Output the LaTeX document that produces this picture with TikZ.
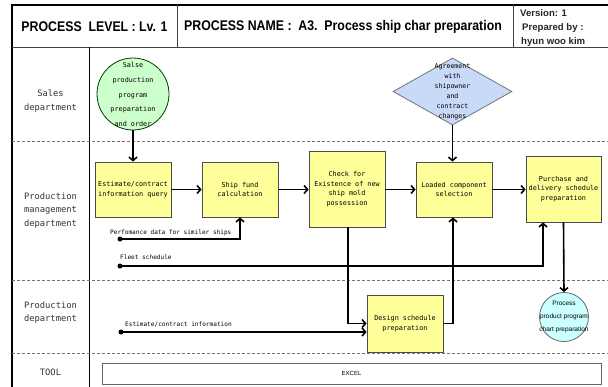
\documentclass[tikz,border=0pt]{standalone}
\usepackage{fontspec}
\setmainfont{Liberation Sans}
\newfontfamily\monof{DejaVu Sans Mono}
\newfontfamily\headf[FakeStretch=0.88]{Liberation Sans}
\usetikzlibrary{arrows.meta,shapes.geometric,calc}
\definecolor{boxyellow}{HTML}{FFFF99}
\definecolor{salesgreen}{HTML}{CCFFCC}
\definecolor{agreeblue}{HTML}{C9DAF8}
\definecolor{proccyan}{HTML}{CCFFFF}
\begin{document}
\begin{tikzpicture}[x=1pt,y=-1pt,
  lanelabel/.style={font=\monof\fontsize{8.8}{13.5}\selectfont, text=black!80, align=center},
  procbox/.style={draw=black!70, fill=boxyellow, line width=0.8pt, minimum width=76pt,
    align=center, inner sep=1pt, font=\monof\fontsize{6.8}{9.6}\selectfont},
  flow/.style={line width=1.6pt, -{Straight Barb[length=3.5pt,width=8pt]}},
  note/.style={font=\monof\fontsize{6.1}{7}\selectfont, anchor=base west, inner sep=0},
  lanesep/.style={draw=black!55, line width=0.7pt, dash pattern=on 3pt off 2pt},
  headtext/.style={font=\headf\bfseries\fontsize{14}{16}\selectfont, inner sep=0},
  vertext/.style={font=\bfseries\fontsize{9.6}{14}\selectfont, inner sep=0, anchor=west, text=black!85}]
\useasboundingbox (0,0) rectangle (608,386);

% frame, header cells and lane separators
\draw[line width=2.2pt] (12,394) -- (12,5) -- (612,5);
\draw[black!75, line width=0.8pt] (12,47) -- (612,47);
\draw[black!75, line width=0.8pt] (177,5) -- (177,47);
\draw[black!75, line width=0.8pt] (513,5) -- (513,47);
\draw[black, line width=0.7pt] (89,47) -- (89,394);
\draw[lanesep] (12,141) -- (608,141);
\draw[lanesep] (12,280) -- (608,280);
\draw[lanesep] (12,353) -- (608,353);

% header
\node[headtext] (lvl) at (94.5,27) {PROCESS\ \ LEVEL : Lv. 1};
\node[headtext] (pname) at (343,27) {PROCESS NAME :\ \ A3.\ \ Process ship char preparation};
\node[vertext] (ver) at (520,13) {Version: 1};
\node[vertext] (prep) at (522,28) {Prepared by :};
\node[vertext] (auth) at (521,42) {hyun woo kim};

% lane labels
\node[lanelabel] (lsales) at (50.5,101) {Sales\\department};
\node[lanelabel] (lpm) at (50.5,210.5) {Production\\management\\department};
\node[lanelabel] (lprod) at (50.5,312.5) {Production\\department};
\node[lanelabel] (ltool) at (50.5,372) {TOOL};

% tool bar
\node[draw=black!60, line width=0.8pt, fill=white, minimum width=499pt, minimum height=21pt,
  inner sep=0, font=\fontsize{6}{7}\selectfont] (excel) at (351.5,373.5) {EXCEL};

% process steps
\node[circle, draw=black!60!green!60!black, fill=salesgreen, line width=0.8pt,
  minimum size=72pt, inner sep=0] (sales) at (133,94) {};
\node[align=center, inner sep=0, font=\monof\fontsize{6.8}{14.7}\selectfont] (salestxt) at (133,94.5)
  {Salse\\production\\program\\preparation\\and order};

\node[diamond, draw=black!55, fill=agreeblue, line width=0.8pt,
  minimum width=119pt, minimum height=67pt, inner sep=0] (agree) at (452.5,91.5) {};
\node[align=center, inner sep=0, font=\monof\fontsize{6.6}{10}\selectfont] (agreetxt) at (452.5,92)
  {Agreement\\with\\shipowner\\and\\contract\\changes};

\node[procbox, minimum height=55pt] (est) at (133,189.5) {Estimate/contract\\information query};
\node[procbox, minimum height=55pt] (fund) at (240,189.5) {Ship fund\\calculation};
\node[procbox, minimum height=76pt] (check) at (347,189) {Check for\\Existence of new\\ship mold\\possession};
\node[procbox, minimum height=55pt] (loaded) at (454,189.5) {Loaded component\\selection};
\node[procbox, minimum width=75pt, minimum height=66pt] (purch) at (563.5,189) {Purchase and\\delivery schedule\\preparation};
\node[procbox, minimum height=57pt] (design) at (405,323.5) {Design schedule\\preparation};

\node[circle, draw=black!60, fill=proccyan, line width=0.8pt,
  minimum size=49pt, inner sep=0] (pchart) at (564,317) {};
\node[align=center, inner sep=0, font=\fontsize{6.5}{13}\selectfont] (pcharttxt) at (564,317)
  {Process\\product program\\chart preparation};

% external inputs
\coordinate (perfdot) at (120,239);
\coordinate (fleetdot) at (120,266);
\coordinate (estdot) at (121,332);
\node[note] (perftxt) at (110,234) {Perfomance data for similer ships};
\node[note] (fleettxt) at (120,259) {Fleet schedule};
\node[note] (esttxt) at (125,326) {Estimate/contract information};
\fill (perfdot) circle[radius=2.5pt];
\fill (fleetdot) circle[radius=2.5pt];
\fill (estdot) circle[radius=2.5pt];

% flows
\draw[flow] (sales.south) -- (est.north);
\draw[flow] (est.east) -- (fund.west);
\draw[flow] (fund.east) -- (fund.east -| check.west);
\draw[flow] (check.east |- loaded.west) -- (loaded.west);
\draw[flow] (loaded.east) -- (loaded.east -| purch.west);
\draw[flow] (agree.south) -- (agree.south |- loaded.north);
\draw[flow] (perfdot) -| (fund.south);
\draw[flow] (fleetdot) -| ([xshift=-20.5pt]purch.south);
\draw[flow] (purch.south) -- (pchart.north);
\draw[flow] ([xshift=1pt]check.south) |- (design.west);
\draw[flow] (estdot) -- ([yshift=-8.5pt]design.west);
\draw[flow] (design.east) -| ([xshift=-1pt]loaded.south);
\end{tikzpicture}
\end{document}
